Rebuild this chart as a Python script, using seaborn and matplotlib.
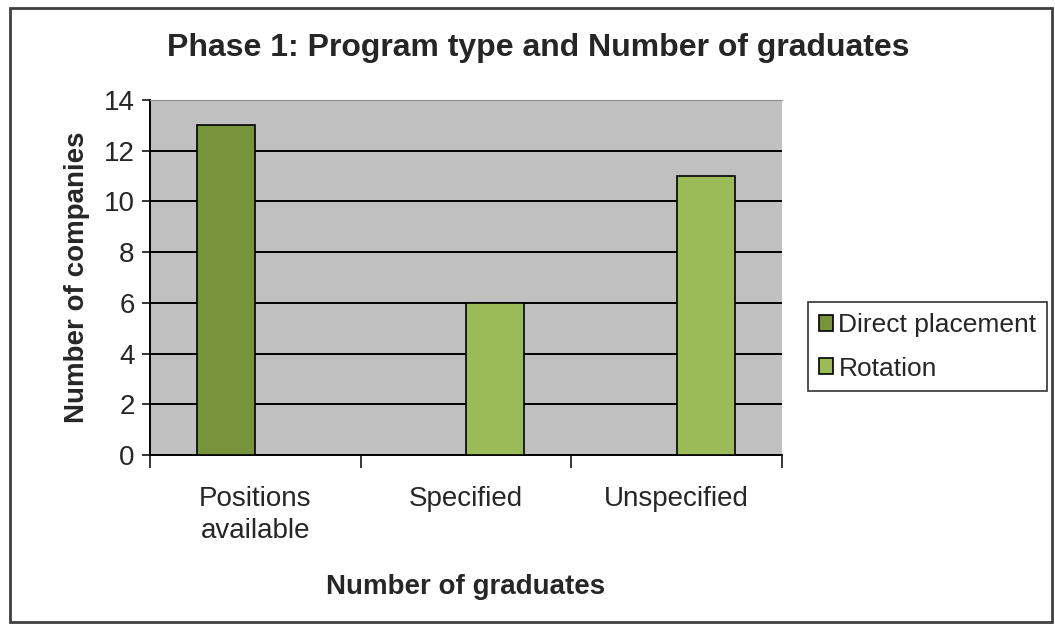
import matplotlib
matplotlib.use("Agg")
import matplotlib.pyplot as plt
import matplotlib.patches as mpatches
import pandas as pd
import seaborn as sns

categories = ["Positions\navailable", "Specified", "Unspecified"]
direct_placement = [13, None, None]
rotation = [None, 6, 11]
series_names = ["Direct placement", "Rotation"]
series_colors = ["#77933C", "#9BBB59"]

rows = []
for cat, d, r in zip(categories, direct_placement, rotation):
    if d is not None:
        rows.append((cat, series_names[0], d))
    if r is not None:
        rows.append((cat, series_names[1], r))
df = pd.DataFrame(rows, columns=["Category", "Program", "Companies"])

sns.set_style("white")
plt.rcParams["font.family"] = ["Liberation Sans", "DejaVu Sans"]

fig = plt.figure(figsize=(10.55, 6.25), dpi=100)
ax = fig.add_axes([0.1422, 0.272, 0.599, 0.568])
ax.set_facecolor("#C0C0C0")

sns.barplot(data=df, x="Category", y="Companies", hue="Program",
            order=categories, hue_order=series_names, dodge=True,
            palette=series_colors, saturation=1, width=0.55, edgecolor="black",
            linewidth=1.2, ax=ax, zorder=3)

ax.set_ylim(0, 14)
ax.set_xlim(-0.5, 2.5)
ax.set_yticks(range(0, 15, 2))
ax.yaxis.grid(True, color="black", linewidth=1.4, zorder=1)
ax.set_axisbelow(True)
ax.tick_params(axis="y", direction="out", length=6, width=1.3, labelsize=20,
               left=True, pad=5)
ax.tick_params(axis="x", which="major", length=0, labelsize=20, pad=22)
for lbl in ax.get_xticklabels():
    lbl.set_linespacing(1.3)
ax.set_xticks([-0.5, 0.5, 1.5, 2.5], minor=True)
ax.tick_params(axis="x", which="minor", direction="out", length=9, width=1.3,
               bottom=True)

for side in ["left", "bottom"]:
    ax.spines[side].set_color("black")
    ax.spines[side].set_linewidth(1.4)
ax.spines["top"].set_color("#909090")
ax.spines["right"].set_visible(False)

ax.set_xlabel("Number of graduates", fontsize=20, fontweight="bold", labelpad=22)
ax.set_ylabel("Number of companies", fontsize=20, fontweight="bold", labelpad=10)

fig.text(0.51, 0.923, "Phase 1: Program type and Number of graduates",
         ha="center", va="center", fontsize=23, fontweight="bold")

handles, labels = ax.get_legend_handles_labels()
leg = fig.legend(handles, labels, loc="center left",
                 bbox_to_anchor=(0.766, 0.445), fontsize=19, frameon=True,
                 fancybox=False, edgecolor="black", handlelength=0.55,
                 handleheight=0.55, handletextpad=0.2, borderpad=0.4,
                 labelspacing=0.75, borderaxespad=0)
leg.get_frame().set_linewidth(1.2)
ax.legend_.remove()

border = mpatches.Rectangle((0.0095, 0.005), 0.988, 0.982, transform=fig.transFigure,
                            fill=False, edgecolor="#404040", linewidth=2)
fig.patches.append(border)

fig.savefig("out.png", dpi=100)
